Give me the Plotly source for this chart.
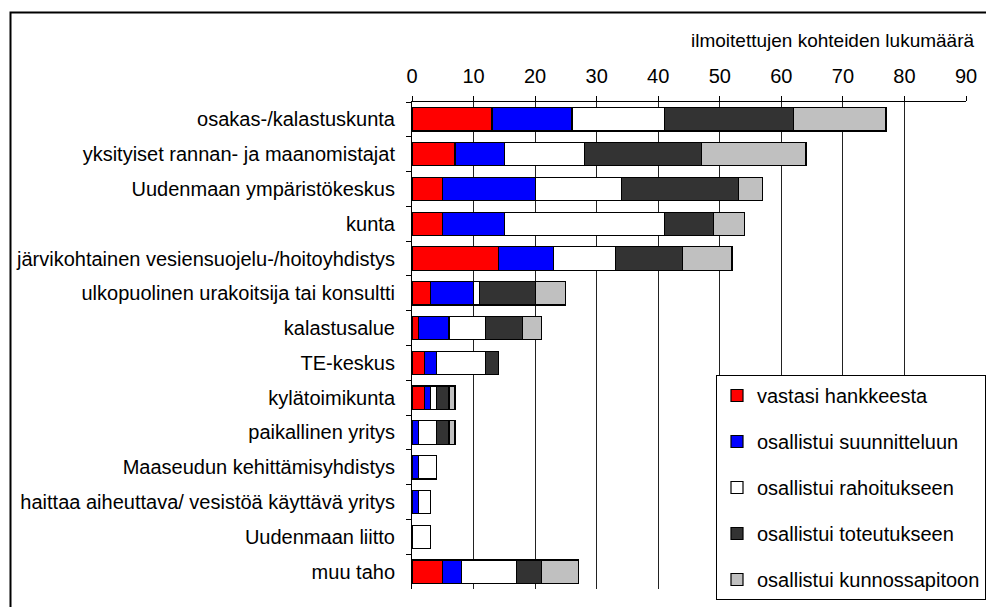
import plotly.graph_objects as go

categories = [
    "osakas-/kalastuskunta",
    "yksityiset rannan- ja maanomistajat",
    "Uudenmaan ympäristökeskus",
    "kunta",
    "järvikohtainen vesiensuojelu-/hoitoyhdistys",
    "ulkopuolinen urakoitsija tai konsultti",
    "kalastusalue",
    "TE-keskus",
    "kylätoimikunta",
    "paikallinen yritys",
    "Maaseudun kehittämisyhdistys",
    "haittaa aiheuttava/ vesistöä käyttävä yritys",
    "Uudenmaan liitto",
    "muu taho",
]

vastasi = [13, 7, 5, 5, 14, 3, 1, 2, 2, 0, 0, 0, 0, 5]
suunnittelu = [13, 8, 15, 10, 9, 7, 5, 2, 1, 1, 1, 1, 0, 3]
rahoitus = [15, 13, 14, 26, 10, 1, 6, 8, 1, 3, 3, 2, 3, 9]
toteutus = [21, 19, 19, 8, 11, 9, 6, 2, 2, 2, 0, 0, 0, 4]
kunnossapito = [15, 17, 4, 5, 8, 5, 3, 0, 1, 1, 0, 0, 0, 6]

series_names = [
    "vastasi hankkeesta",
    "osallistui suunnitteluun",
    "osallistui rahoitukseen",
    "osallistui toteutukseen",
    "osallistui kunnossapitoon",
]
series_values = [vastasi, suunnittelu, rahoitus, toteutus, kunnossapito]
colors = ["#FF0000", "#0000FF", "#FFFFFF", "#333333", "#C0C0C0"]

x_ticks = [0, 10, 20, 30, 40, 50, 60, 70, 80, 90]
axis_title = "ilmoitettujen kohteiden lukumäärä"

FONT = "Liberation Sans, Arial, sans-serif"

fig = go.Figure()
for i, (name, vals, col) in enumerate(zip(series_names, series_values, colors)):
    fig.add_trace(go.Bar(
        y=categories, x=vals, name=name, orientation="h",
        marker=dict(color=col, line=dict(color="black", width=1.2)),
        legendgroup=f"g{i}",
        hoverinfo="x+y+name",
    ))

W, H = 986, 607
L, R, T, B = 412, 20, 102, 18
pw = W - L - R
ph = H - T - B

def px_x(px):
    return (px - L) / pw

def px_y(py):
    return (H - B - py) / ph

fig.update_layout(
    width=W, height=H,
    margin=dict(l=L, r=R, t=T, b=B, autoexpand=False),
    paper_bgcolor="white", plot_bgcolor="white",
    barmode="stack", bargap=0.33,
    font=dict(family=FONT, size=20, color="black"),
    showlegend=True,
    legend=dict(
        x=px_x(716), y=px_y(375), xanchor="left", yanchor="top",
        bgcolor="white", bordercolor="black", borderwidth=1,
        traceorder="grouped", tracegroupgap=17,
        itemwidth=30,
        font=dict(family=FONT, size=20, color="black"),
    ),
    xaxis=dict(
        side="top", range=[0, 90], tickvals=x_ticks,
        ticktext=[str(v) for v in x_ticks],
        showgrid=True, gridcolor="#222222", gridwidth=1,
        showline=True, linecolor="black", linewidth=1,
        ticks="outside", ticklen=5, tickcolor="black",
        ticklabelstandoff=5,
        zeroline=False, fixedrange=True,
        tickfont=dict(size=20),
    ),
    yaxis=dict(
        autorange="reversed",
        showline=True, linecolor="black", linewidth=1,
        ticks="outside", ticklen=5, tickcolor="black",
        tickson="boundaries", ticklabelstandoff=12,
        showgrid=False, fixedrange=True,
        tickfont=dict(size=20),
    ),
    annotations=[dict(
        text=axis_title, xref="paper", yref="paper",
        x=px_x(976), y=px_y(40), xanchor="right", yanchor="middle",
        showarrow=False, font=dict(family=FONT, size=19, color="black"),
    )],
    shapes=[dict(
        type="rect", xref="paper", yref="paper",
        x0=px_x(10.5), x1=px_x(1010), y0=px_y(630), y1=px_y(12.5),
        line=dict(color="black", width=2), fillcolor="rgba(0,0,0,0)",
        layer="above",
    )],
)

fig.write_html(
    "out.html",
    config={"displayModeBar": False},
    post_script="document.body.style.margin='0px';document.body.style.overflow='hidden';",
)
